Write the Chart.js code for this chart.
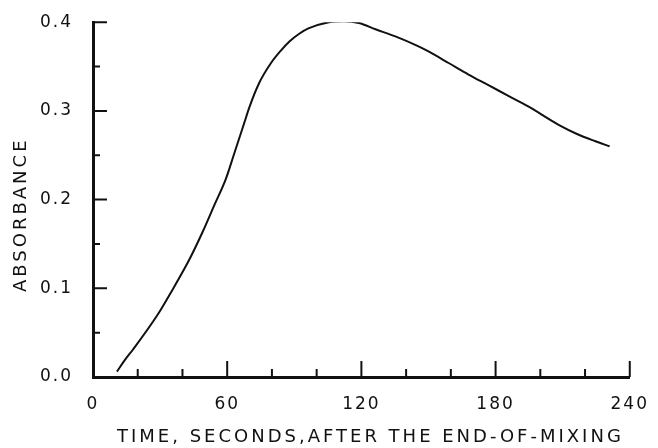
<!DOCTYPE html>
<html>
<head>
<meta charset="utf-8">
<script src="https://cdn.jsdelivr.net/npm/chart.js@4.4.0/dist/chart.umd.min.js"></script>
<style>
  html, body { margin: 0; padding: 0; background: #fff; }
  #wrap { width: 658px; height: 448px; }
</style>
</head>
<body>
<div id="wrap"><canvas id="c" width="658" height="448"></canvas></div>
<script>
// Absorbance trace after the end of mixing
const timeSeconds = [10.7, 14.2, 17.9, 29.1, 34.3, 43.2, 49.1, 54.3, 59.5, 62.9, 67.7, 69.9, 74.4, 79.6, 84.0, 87.7, 92.2, 96.3, 105.5, 112.2, 118.9, 126.3, 135.2, 145.3, 150, 159, 167.9, 176.8, 185.7, 194.6, 208.4, 216.4, 224.4, 231];
const absorbance = [0.006, 0.019, 0.031, 0.071, 0.093, 0.133, 0.164, 0.194, 0.224, 0.250, 0.287, 0.304, 0.332, 0.354, 0.368, 0.378, 0.387, 0.393, 0.400, 0.401, 0.399, 0.392, 0.384, 0.373, 0.367, 0.354, 0.341, 0.329, 0.317, 0.305, 0.284, 0.274, 0.266, 0.260];

const xMajorTicks = [0, 60, 120, 180, 240];
const xMinorTicks = [20, 40, 80, 100, 140, 160, 200, 220];
const yMajorTicks = [0, 0.1, 0.2, 0.3, 0.4];
const yMinorTicks = [0.05, 0.15, 0.25, 0.35];

const xTitle = 'TIME, SECONDS,AFTER THE END-OF-MIXING';
const yTitle = 'ABSORBANCE';

const INK = '#111';
const FONT = '"DejaVu Sans", sans-serif';
const TICK_SPACING = '2px';

// Inward tick marks, letter spacing and axis titles
const plotDecor = {
  id: 'plotDecor',
  beforeLayout(chart) { chart.ctx.letterSpacing = TICK_SPACING; },
  beforeDraw(chart) { chart.ctx.letterSpacing = TICK_SPACING; },
  afterDraw(chart) {
    const { ctx, scales: { x, y } } = chart;
    const x0 = x.left, y0 = y.bottom;
    ctx.save();
    ctx.strokeStyle = INK;
    ctx.lineWidth = 2;
    ctx.beginPath();
    xMajorTicks.forEach(v => { const px = x.getPixelForValue(v); ctx.moveTo(px, y0); ctx.lineTo(px, y0 - 16); });
    xMinorTicks.forEach(v => { const px = x.getPixelForValue(v); ctx.moveTo(px, y0); ctx.lineTo(px, y0 - 8); });
    yMajorTicks.forEach(v => { const py = y.getPixelForValue(v); ctx.moveTo(x0, py); ctx.lineTo(x0 + 14, py); });
    yMinorTicks.forEach(v => { const py = y.getPixelForValue(v); ctx.moveTo(x0, py); ctx.lineTo(x0 + 7, py); });
    ctx.stroke();

    ctx.fillStyle = INK;
    ctx.letterSpacing = '3px';
    ctx.font = '18px ' + FONT;
    ctx.textBaseline = 'alphabetic';
    ctx.textAlign = 'left';
    ctx.fillText(xTitle, 117, 442);

    ctx.translate(26, 292);
    ctx.rotate(-Math.PI / 2);
    ctx.fillText(yTitle, 0, 0);
    ctx.restore();
  }
};

new Chart(document.getElementById('c'), {
  type: 'line',
  data: {
    datasets: [{
      data: timeSeconds.map((t, i) => ({ x: t, y: absorbance[i] })),
      borderColor: INK,
      borderWidth: 2,
      pointRadius: 0,
      cubicInterpolationMode: 'monotone',
      fill: false
    }]
  },
  options: {
    responsive: false,
    animation: false,
    events: [],
    layout: { padding: { left: 0, right: 26, top: 20, bottom: 0 } },
    plugins: { legend: { display: false }, tooltip: { enabled: false } },
    scales: {
      x: {
        type: 'linear',
        min: 0, max: 240,
        grid: { display: false },
        border: { display: true, color: INK, width: 3 },
        afterFit(s) { s.height = 71; },
        afterBuildTicks(s) { s.ticks = xMajorTicks.map(v => ({ value: v })); },
        ticks: {
          color: INK, padding: 9,
          font: { family: FONT, size: 17 },
          maxRotation: 0,
          callback: v => String(v)
        }
      },
      y: {
        type: 'linear',
        min: 0, max: 0.4,
        grid: { display: false },
        border: { display: true, color: INK, width: 3 },
        afterFit(s) { s.width = 93; },
        afterBuildTicks(s) { s.ticks = yMajorTicks.map(v => ({ value: v })); },
        ticks: {
          color: INK, padding: 12,
          font: { family: FONT, size: 17 },
          callback: v => Number(v).toFixed(1)
        }
      }
    }
  },
  plugins: [plotDecor]
});
</script>
</body>
</html>
